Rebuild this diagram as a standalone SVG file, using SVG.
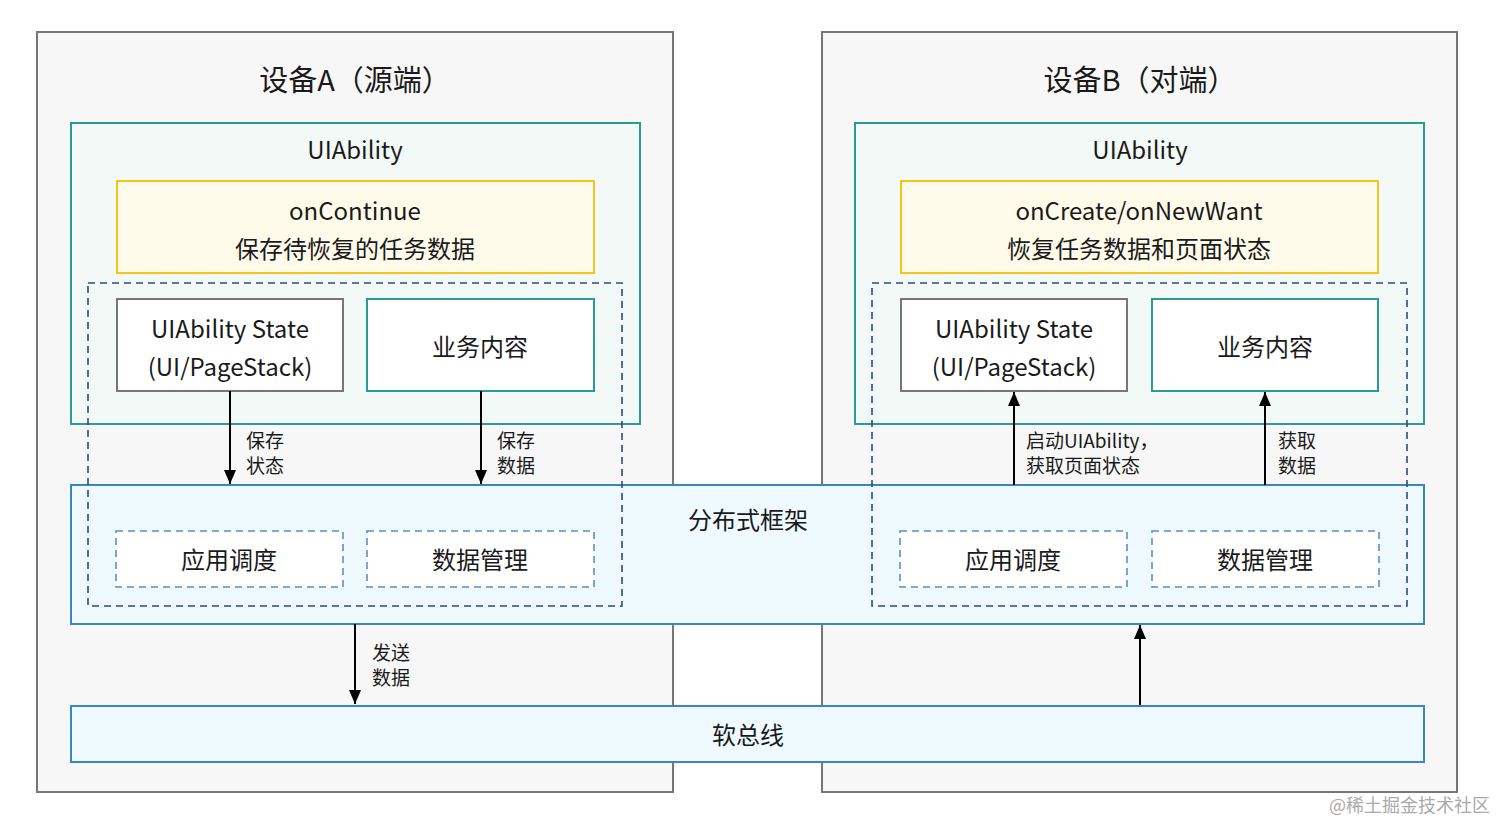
<svg xmlns="http://www.w3.org/2000/svg" width="1496" height="822" viewBox="0 0 1496 822">
<style>
text{font-family:"Noto Sans CJK SC","Noto Sans",sans-serif;fill:#1a1a1a;text-anchor:middle;dominant-baseline:central}
.dev{fill:#f7f7f7;stroke:#777;stroke-width:2}
.uia{fill:#f3f9f6;stroke:#2a9d8f;stroke-width:2}
.yel{fill:#fffbeb;stroke:#f5c518;stroke-width:2}
.dash{fill:none;stroke:#2c4a86;stroke-width:1.6;stroke-dasharray:7 5}
.st{fill:#fff;stroke:#777;stroke-width:2}
.biz{fill:#fff;stroke:#2a9d8f;stroke-width:2}
.fw{fill:#eefaff;stroke:#3a87c0;stroke-width:2}
.sub{fill:#fff;stroke:#5b8fc9;stroke-width:1.6;stroke-dasharray:7 5}
.t26{font-size:29px}.t22{font-size:24px}
.lbl{font-size:19px;text-anchor:start}
.con{stroke:#000;stroke-width:2;fill:none;marker-end:url(#ah)}
</style>
<defs>
<marker id="ah" viewBox="0 0 14 12" refX="14" refY="6" markerWidth="14" markerHeight="12" markerUnits="userSpaceOnUse" orient="auto"><path d="M0,0L14,6L0,12z" fill="#000"/></marker>
</defs>
<rect width="1496" height="822" fill="#fff"/>
<g id="deviceA"><rect class="dev" x="37" y="32" width="636" height="760"/><text class="t26" x="355" y="78">设备A（源端）</text></g>
<g id="deviceB"><rect class="dev" x="822" y="32" width="635" height="760"/><text class="t26" x="1140" y="78">设备B（对端）</text></g>
<g id="uiabilityA"><rect class="uia" x="71" y="123" width="569" height="301"/><text class="t22" x="355" y="148">UIAbility</text></g>
<g id="uiabilityB"><rect class="uia" x="855" y="123" width="569" height="301"/><text class="t22" x="1140" y="148">UIAbility</text></g>
<g id="onContinue"><rect class="yel" x="117" y="181" width="477" height="92"/><text class="t22" x="355" y="209">onContinue</text><text class="t22" x="355" y="247">保存待恢复的任务数据</text></g>
<g id="onCreate"><rect class="yel" x="901" y="181" width="477" height="92"/><text class="t22" x="1139" y="209">onCreate/onNewWant</text><text class="t22" x="1139" y="247">恢复任务数据和页面状态</text></g>
<g id="framework"><rect class="fw" x="71" y="485" width="1353" height="139"/><text class="t22" x="748" y="518">分布式框架</text></g>
<g id="dashA"><rect class="dash" x="88" y="283" width="534" height="323"/></g>
<g id="dashB"><rect class="dash" x="872" y="283" width="535" height="323"/></g>
<g id="stateA"><rect class="st" x="117" y="299" width="226" height="92"/><text class="t22" x="230" y="327">UIAbility State</text><text class="t22" x="230" y="365">(UI/PageStack)</text></g>
<g id="bizA"><rect class="biz" x="367" y="299" width="227" height="92"/><text class="t22" x="480" y="345">业务内容</text></g>
<g id="stateB"><rect class="st" x="901" y="299" width="226" height="92"/><text class="t22" x="1014" y="327">UIAbility State</text><text class="t22" x="1014" y="365">(UI/PageStack)</text></g>
<g id="bizB"><rect class="biz" x="1152" y="299" width="226" height="92"/><text class="t22" x="1265" y="345">业务内容</text></g>
<g id="schedA"><rect class="sub" x="116" y="531" width="227" height="56"/><text class="t22" x="229" y="558">应用调度</text></g>
<g id="dataA"><rect class="sub" x="367" y="531" width="227" height="56"/><text class="t22" x="480" y="558">数据管理</text></g>
<g id="schedB"><rect class="sub" x="900" y="531" width="227" height="56"/><text class="t22" x="1013" y="558">应用调度</text></g>
<g id="dataB"><rect class="sub" x="1152" y="531" width="227" height="56"/><text class="t22" x="1265" y="558">数据管理</text></g>
<g id="softbus"><rect class="fw" x="71" y="706" width="1353" height="56"/><text class="t22" x="748" y="733">软总线</text></g>
<g id="connectors">
<path class="con" d="M230,391V484"/>
<path class="con" d="M481,391V484"/>
<path class="con" d="M1014,485V392"/>
<path class="con" d="M1265,485V392"/>
<path class="con" d="M355,624V704"/>
<path class="con" d="M1140,705V625"/>
<text class="lbl" x="246" y="439">保存</text><text class="lbl" x="246" y="464">状态</text>
<text class="lbl" x="497" y="439">保存</text><text class="lbl" x="497" y="464">数据</text>
<text class="lbl" x="1026" y="439">启动UIAbility，</text><text class="lbl" x="1026" y="464">获取页面状态</text>
<text class="lbl" x="1278" y="439">获取</text><text class="lbl" x="1278" y="464">数据</text>
<text class="lbl" x="372" y="651">发送</text><text class="lbl" x="372" y="676">数据</text>
</g>
<text x="1490" y="804" style="font-size:18px;fill:#aaa;text-anchor:end">@稀土掘金技术社区</text>
</svg>
